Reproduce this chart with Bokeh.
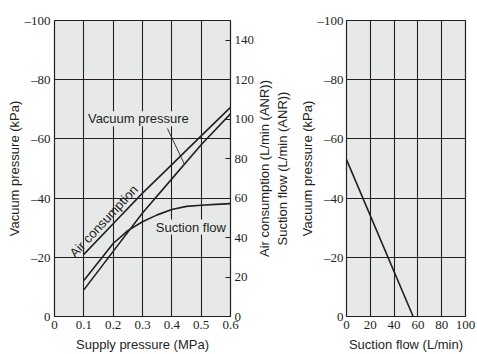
import math
import numpy as np
from bokeh.plotting import figure
from bokeh.models import Range1d, LinearAxis, Label
from bokeh.layouts import row
from bokeh.embed import file_html
from bokeh.resources import INLINE

# ---------------- data ----------------
supply_pressure = [0.1, 0.2, 0.3, 0.4, 0.5, 0.6]            # MPa
vacuum_pressure = [-9.0, -22.0, -35.0, -46.5, -58.0, -68.5]  # kPa
air_consumption = [31.5, 47.0, 62.5, 77.0, 91.5, 106.0]      # L/min (ANR)
suction_supply = [0.1, 0.2, 0.25, 0.3, 0.35, 0.4, 0.45, 0.5, 0.55, 0.6]
suction_flow = [18.2, 37.0, 43.5, 48.0, 51.5, 54.2, 55.8, 56.4, 56.8, 57.2]

flow_curve_flow = [0, 56]       # L/min
flow_curve_vacuum = [-53, 0]    # kPa

x_ticks_left = [0, 0.1, 0.2, 0.3, 0.4, 0.5, 0.6]
x_labels_left = ["0", "0.1", "0.2", "0.3", "0.4", "0.5", "0.6"]
y_ticks = [-100, -80, -60, -40, -20, 0]
y_labels = ["\u2013100", "\u201380", "\u201360", "\u201340", "\u201320", "0"]
flow_ticks = [0, 20, 40, 60, 80, 100, 120, 140]
flow_labels = ["0", "20", "40", "60", "80", "100", "120", "140"]
x_ticks_right = [0, 20, 40, 60, 80, 100]
x_labels_right = ["0", "20", "40", "60", "80", "100"]

# ---------------- style ----------------
INK = "#231f20"
BG = "#e7e8e8"
TICK_FONT = "Liberation Sans Narrow"
TEXT_FONT = "Liberation Sans"
LW = 1.6


def style_axis(ax, standoff, label_standoff):
    ax.major_tick_in = 0
    ax.major_tick_out = 0
    ax.minor_tick_in = 0
    ax.minor_tick_out = 0
    ax.axis_line_color = None
    ax.major_label_text_font = TICK_FONT
    ax.major_label_text_font_size = "13px"
    ax.major_label_text_color = INK
    ax.major_label_standoff = standoff
    ax.axis_label_text_font = TEXT_FONT
    ax.axis_label_text_font_size = "13px"
    ax.axis_label_text_font_style = "normal"
    ax.axis_label_text_color = INK
    ax.axis_label_standoff = label_standoff


def style_grid(p):
    for g in (p.xgrid[0], p.ygrid[0]):
        g.grid_line_color = INK
        g.grid_line_width = 1.1


# ---------------- left chart ----------------
p = figure(frame_width=176, frame_height=296,
           x_range=Range1d(0, 0.6), y_range=Range1d(0, -100),
           output_backend="svg", toolbar_location=None,
           min_border_left=51, min_border_right=20,
           min_border_top=15, min_border_bottom=38,
           background_fill_color=BG, border_fill_color="white",
           outline_line_color=INK, outline_line_width=1.2)
p.extra_y_ranges = {"flow": Range1d(0, 150)}

p.xaxis.ticker = x_ticks_left
p.xaxis.major_label_overrides = dict(zip(x_ticks_left, x_labels_left))
p.xaxis.axis_label = "Supply pressure (MPa)"
style_axis(p.xaxis[0], 4, 5)

p.yaxis.ticker = y_ticks
p.yaxis.major_label_overrides = dict(zip(y_ticks, y_labels))
p.yaxis.axis_label = "Vacuum pressure (kPa)"
style_axis(p.yaxis[0], 4, 0)

flow_axis = LinearAxis(y_range_name="flow", ticker=flow_ticks)
flow_axis.major_label_overrides = dict(zip(flow_ticks, flow_labels))
style_axis(flow_axis, 4, 0)
flow_axis.major_tick_in = 5
flow_axis.major_tick_line_color = INK
flow_axis.major_tick_line_width = 1.2
p.add_layout(flow_axis, "right")

style_grid(p)

p.line(supply_pressure, vacuum_pressure, line_color=INK, line_width=LW)
p.line(supply_pressure, air_consumption, y_range_name="flow", line_color=INK, line_width=LW)
p.line(suction_supply, suction_flow, y_range_name="flow", line_color=INK, line_width=LW)

# leader line from the "Vacuum pressure" label to its curve
leader_x = [0.385, 0.443]
leader_y = [-63.5, float(np.interp(0.443, supply_pressure, vacuum_pressure))]
p.line(leader_x, leader_y, line_color=INK, line_width=0.9)

common = dict(text_font=TEXT_FONT, text_font_size="13px", text_color=INK,
              text_align="center", text_baseline="middle")
p.add_layout(Label(x=0.286, y=-66.8, text="Vacuum pressure",
                   background_fill_color=BG, **common))
p.add_layout(Label(x=0.465, y=-30.2, text="Suction flow",
                   background_fill_color=BG, **common))
p.add_layout(Label(x=0.168, y=-32.2, text="Air consumption",
                   angle=47, angle_units="deg", **common))

# ---------------- right chart ----------------
p2 = figure(frame_width=119, frame_height=296,
            x_range=Range1d(0, 100), y_range=Range1d(0, -100),
            output_backend="svg", toolbar_location=None,
            min_border_left=88, min_border_right=13,
            min_border_top=15, min_border_bottom=38,
            background_fill_color=BG, border_fill_color="white",
            outline_line_color=INK, outline_line_width=1.2,
            styles={"margin-left": "-4px"})

p2.xaxis.ticker = x_ticks_right
p2.xaxis.major_label_overrides = dict(zip(x_ticks_right, x_labels_right))
p2.xaxis.axis_label = "Suction flow (L/min)"
style_axis(p2.xaxis[0], 4, 5)

p2.yaxis.ticker = y_ticks
p2.yaxis.major_label_overrides = dict(zip(y_ticks, y_labels))
p2.yaxis.axis_label = "Vacuum pressure (kPa)"
style_axis(p2.yaxis[0], 3, 0)

# title of the left chart's secondary axis (sits in the gap between the charts,
# reading bottom-to-top like the reference)
flow_title_axis = LinearAxis(ticker=[],
                             axis_label="Air consumption (L/min (ANR))\nSuction flow (L/min (ANR))")
style_axis(flow_title_axis, 0, 7)
p2.add_layout(flow_title_axis, "left")

style_grid(p2)

p2.line(flow_curve_flow, flow_curve_vacuum, line_color=INK, line_width=LW)

layout = row(p, p2, spacing=0, styles={"margin": "5px 0px 0px 3px"})

open("out.html", "w").write(file_html(layout, INLINE))
